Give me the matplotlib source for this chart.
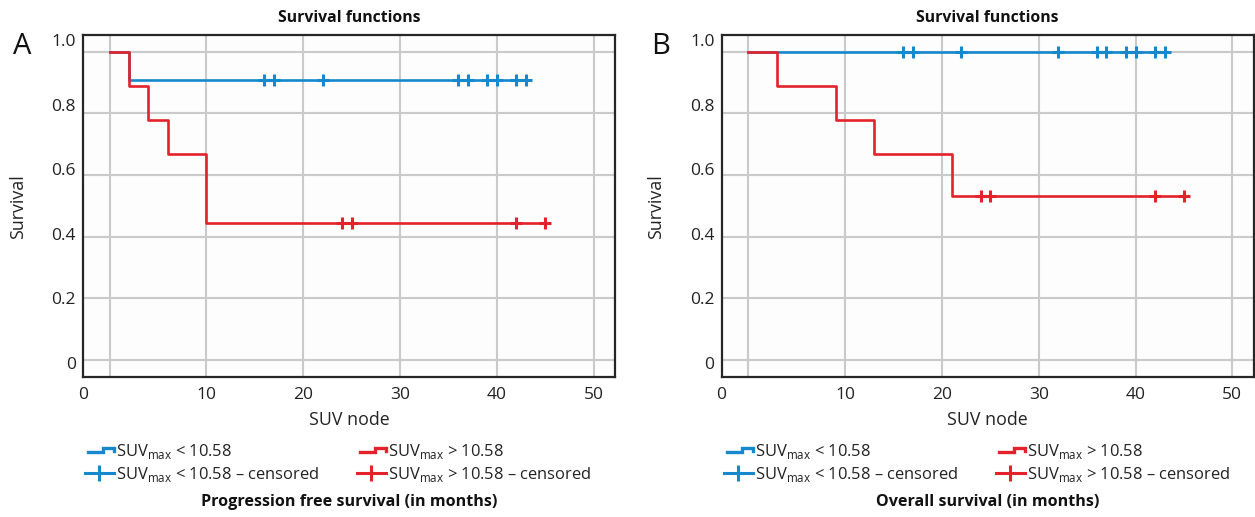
import numpy as np
import matplotlib
matplotlib.use("Agg")
import matplotlib.pyplot as plt
from matplotlib.lines import Line2D
from matplotlib.legend_handler import HandlerBase

plt.rcParams['font.family'] = ['Open Sans', 'DejaVu Sans']
plt.rcParams['mathtext.fontset'] = 'custom'
plt.rcParams['mathtext.rm'] = 'Open Sans'

# ---------------- data ----------------
# Panel A: progression free survival
a_red_times = [0, 2, 4, 6, 10, 45]
a_red_surv = [1.0, 0.889, 0.778, 0.667, 0.444, 0.444]
a_red_cens = [24, 25, 42, 45]
a_blue_times = [0, 2, 43.3]
a_blue_surv = [1.0, 0.909, 0.909]
a_blue_cens = [16, 17, 22, 36, 37, 39, 40, 42, 43]

# Panel B: overall survival
b_red_times = [0, 3, 9, 13, 21, 45]
b_red_surv = [1.0, 0.889, 0.778, 0.667, 0.533, 0.533]
b_red_cens = [24, 25, 42, 45]
b_blue_times = [0, 43.3]
b_blue_surv = [1.0, 1.0]
b_blue_cens = [16, 17, 22, 32, 36, 37, 39, 40, 42, 43]

x_ticks = [0, 10, 20, 30, 40, 50]
x_ticklabels = ['0', '10', '20', '30', '40', '50']
y_ticks = [0, 0.2, 0.4, 0.6, 0.8, 1.0]
y_ticklabels = ['0', '0.2', '0.4', '0.6', '0.8', '1.0']

labels = [r'SUV$_{\mathregular{max}}$ < 10.58',
          r'SUV$_{\mathregular{max}}$ < 10.58 – censored',
          r'SUV$_{\mathregular{max}}$ > 10.58',
          r'SUV$_{\mathregular{max}}$ > 10.58 – censored']
bottom_titles = ['Progression free survival (in months)', 'Overall survival (in months)']
panel_letters = ['A', 'B']

RED = '#E4222B'
BLUE = '#1689CE'
GRID = '#CACACA'
SPINE = '#262626'
TXT = '#222222'

W, H = 1255, 517
fig = plt.figure(figsize=(W / 100, H / 100), dpi=100)


class StepHandler(HandlerBase):
    def create_artists(self, legend, orig_handle, xdescent, ydescent,
                       width, height, fontsize, trans):
        x0 = -xdescent
        y0 = -ydescent
        xm = x0 + 0.62 * width
        xs = [x0 + 0.1 * width, xm, xm, x0 + width, x0 + width]
        ys = [y0 + 0.35 * height, y0 + 0.35 * height, y0 + 0.75 * height,
              y0 + 0.75 * height, y0 + 0.5 * height]
        ln = Line2D(xs, ys, color=orig_handle.get_color(), lw=2.4,
                    solid_joinstyle='miter', transform=trans)
        return [ln]


def step_value(times, surv, t):
    idx = np.searchsorted(times, t, side='right') - 1
    return np.asarray(surv)[idx]


def draw_panel(ax, blue_t, blue_s, blue_c, red_t, red_s, red_c, bottom_title, letter):
    ax.set_facecolor('#FDFDFD')
    ax.step(blue_t, blue_s, where='post', color=BLUE, lw=1.9, zorder=3)
    ax.plot(blue_c, step_value(blue_t, blue_s, blue_c), ls='none', marker='+',
            ms=8, mew=2.2, color=BLUE, zorder=3)
    ax.step(red_t, red_s, where='post', color=RED, lw=1.9, zorder=4)
    ax.plot(red_c, step_value(red_t, red_s, red_c), ls='none', marker='+',
            ms=8, mew=2.2, color=RED, zorder=4)

    xmin, xmax = -2.78, 52.22
    ymin, ymax = -0.056, 1.054
    ax.set_xlim(xmin, xmax)
    ax.set_ylim(ymin, ymax)

    # grid lines at the true values
    for xv in x_ticks:
        ax.axvline(xv, color=GRID, lw=1.5, zorder=1)
    for yv in y_ticks:
        ax.axhline(yv, color=GRID, lw=1.5, zorder=1)

    # tick labels positioned as in the reference
    xlab_pos = [xmin] + x_ticks[1:]
    ax.set_xticks(xlab_pos)
    ax.set_xticklabels(x_ticklabels)
    ylab_pos = np.linspace(-0.01, 1.038, len(y_ticks))
    ax.set_yticks(ylab_pos)
    ax.set_yticklabels(y_ticklabels)
    ax.tick_params(which='both', length=0)
    ax.tick_params(axis='x', pad=7, labelsize=12.5, labelcolor=TXT)
    ax.tick_params(axis='y', pad=5, labelsize=12.5, labelcolor=TXT)

    for s in ax.spines.values():
        s.set_color(SPINE)
        s.set_linewidth(1.6)

    ax.set_title('Survival functions', fontsize=11.3, fontweight='bold', pad=9,
                 color='#111111')
    ax.set_xlabel('SUV node', fontsize=12.8, color=TXT)
    ax.xaxis.set_label_coords(0.5, -0.125)
    ax.xaxis.label.set_va('center')
    ax.set_ylabel('Survival', fontsize=12.8, color=TXT)
    ax.yaxis.set_label_coords(-0.122, 0.5)
    ax.yaxis.label.set_va('center')

    h_blue = Line2D([], [], color=BLUE)
    h_blue_c = Line2D([], [], color=BLUE, lw=2.2, marker='|', ms=11, mew=2.2)
    h_red = Line2D([], [], color=RED)
    h_red_c = Line2D([], [], color=RED, lw=2.2, marker='|', ms=11, mew=2.2)
    hm = {h_blue: StepHandler(), h_red: StepHandler()}
    common = dict(frameon=False, loc='upper left', fontsize=11.9, handlelength=1.75,
                  handletextpad=0.15, labelspacing=0.2, borderpad=0, borderaxespad=0,
                  numpoints=1, handler_map=hm, labelcolor=TXT)
    y_leg = -0.19
    leg1 = ax.legend([h_blue, h_blue_c], labels[:2],
                     bbox_to_anchor=(0.004, y_leg), **common)
    ax.add_artist(leg1)
    ax.legend([h_red, h_red_c], labels[2:],
              bbox_to_anchor=(0.515, y_leg), **common)

    ax.text(0.5, -0.364, bottom_title, transform=ax.transAxes, ha='center',
            va='center', fontsize=11.6, fontweight='bold', color='#111111')
    ax.text(-0.114, 0.965, letter, transform=ax.transAxes, ha='center',
            va='center', fontsize=21, color='#111111')


ax_w = 532.3 / W
ax_h = (377.3 - 35) / H
ax_b = 1 - 377.3 / H
axA = fig.add_axes([82.7 / W, ax_b, ax_w, ax_h])
axB = fig.add_axes([721.5 / W, ax_b, ax_w, ax_h])

draw_panel(axA, a_blue_times, a_blue_surv, a_blue_cens,
           a_red_times, a_red_surv, a_red_cens, bottom_titles[0], panel_letters[0])
draw_panel(axB, b_blue_times, b_blue_surv, b_blue_cens,
           b_red_times, b_red_surv, b_red_cens, bottom_titles[1], panel_letters[1])

fig.savefig('out.png', dpi=100, facecolor='white')
